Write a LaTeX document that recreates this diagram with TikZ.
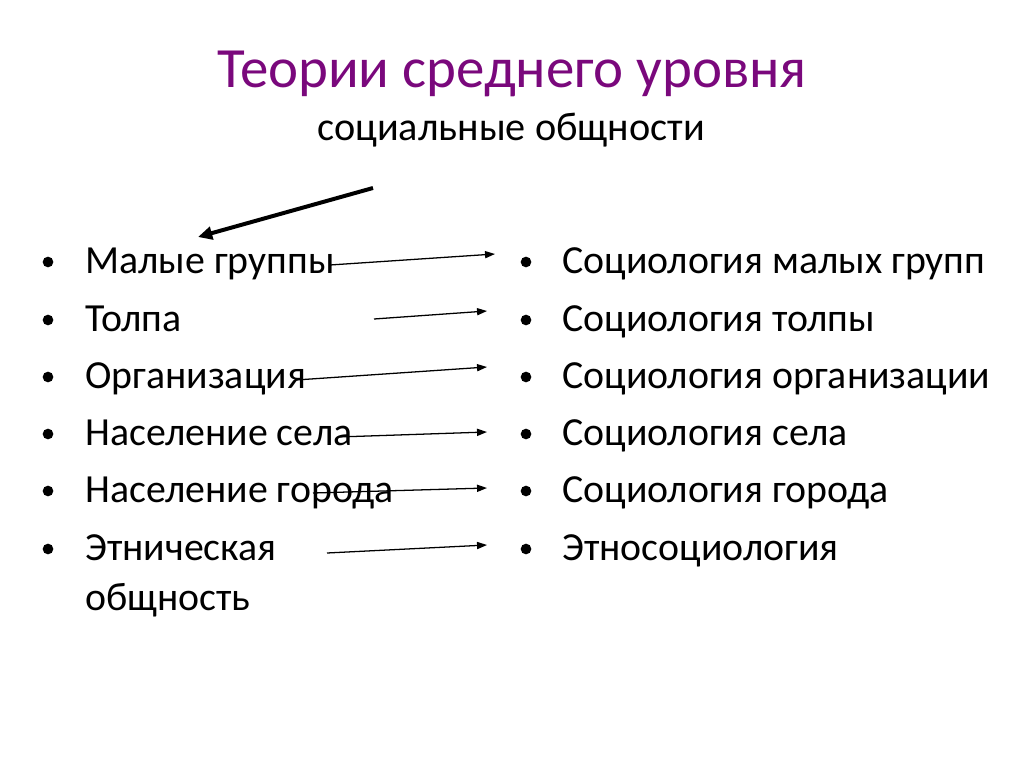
\documentclass[tikz,border=0pt]{standalone}
\usepackage{fontspec}
\setmainfont{Carlito}
\usepackage{xcolor}
\usetikzlibrary{arrows.meta}
\definecolor{titlepurple}{RGB}{122,8,124}

\begin{document}
\begin{tikzpicture}[
  x=0.703125pt, y=-0.703125pt,
  item/.style={anchor=base west, inner sep=0pt, font=\fontsize{28}{34}\selectfont},
  dot/.style={circle, fill=black, inner sep=0pt, minimum size=7.5pt},
  link/.style={-{Triangle[length=7pt, width=5pt]}, line width=0.9pt},
  bold link/.style={-{Triangle[length=10pt, width=9pt]}, line width=2.8pt}
]
\useasboundingbox (0,0) rectangle (1024,767);

% title
\node[anchor=base, inner sep=0pt, text=titlepurple, font=\fontsize{40}{48}\selectfont] (title) at (512,88) {Теории среднего уровня};
\node[anchor=base, inner sep=0pt, font=\fontsize{28.3}{34}\selectfont] (subtitle) at (511,141) {социальные общности};

% left column
\foreach \y in {273,331,388,445,502,560} \node[dot] at (48,\y-11) {};
\node[item] (l1) at (85,273) {Малые группы};
\node[item] (l2) at (85,331) {Толпа};
\node[item] (l3) at (85,388) {Организация};
\node[item] (l4) at (85,445) {Население села};
\node[item] (l5) at (85,502) {Население города};
\node[item] (l6) at (85,560) {Этническая};
\node[item] (l6b) at (85,610) {общность};

% right column
\foreach \y in {273,331,388,445,502,560} \node[dot] at (526,\y-11) {};
\node[item] (r1) at (562,273) {Социология малых групп};
\node[item] (r2) at (562,331) {Социология толпы};
\node[item] (r3) at (562,388) {Социология организации};
\node[item] (r4) at (562,445) {Социология села};
\node[item] (r5) at (562,502) {Социология города};
\node[item] (r6) at (562,560) {Этносоциология};

% arrow ends
\coordinate (top) at (373,188);
\coordinate (left) at (198,237);
\coordinate (s1) at (330,265); \coordinate (e1) at (495,254);
\coordinate (s2) at (374,319); \coordinate (e2) at (487,311);
\coordinate (s3) at (296,380); \coordinate (e3) at (487,367);
\coordinate (s4) at (338,437); \coordinate (e4) at (487,432);
\coordinate (s5) at (313,493); \coordinate (e5) at (487,488);
\coordinate (s6) at (327,553); \coordinate (e6) at (487,545);

\draw[bold link] (top) -- (left);
\foreach \i in {1,...,6} \draw[link] (s\i) -- (e\i);
\end{tikzpicture}
\end{document}
